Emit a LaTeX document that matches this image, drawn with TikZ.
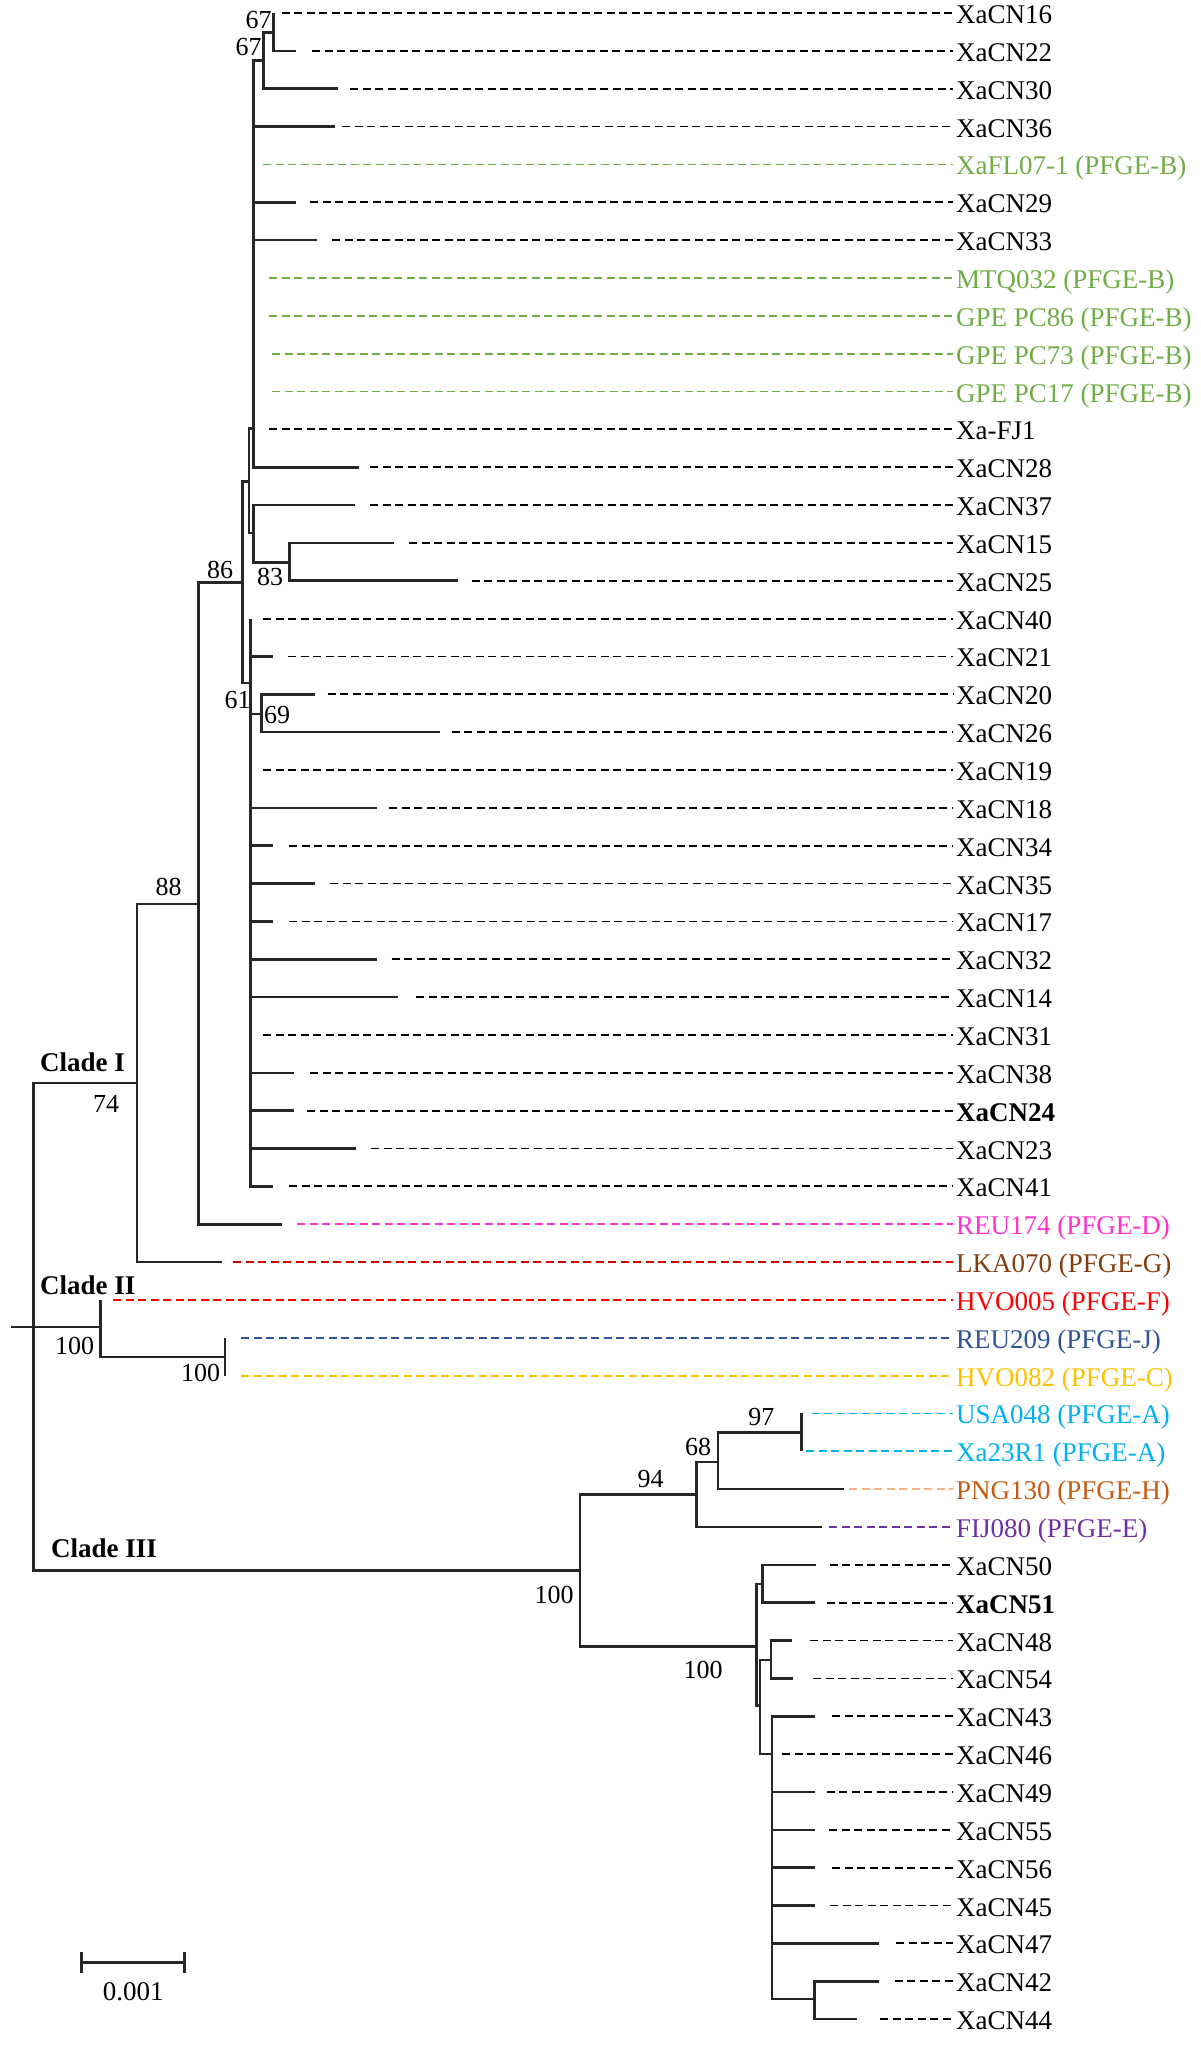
\documentclass[tikz,border=0pt]{standalone}
\usepackage{fontspec}
\setmainfont{Liberation Serif}
\usetikzlibrary{arrows.meta}
\definecolor{grn}{HTML}{70AD47}
\definecolor{pnk}{HTML}{FF33CC}
\definecolor{dred}{HTML}{D00000}
\definecolor{brn}{HTML}{843C0C}
\definecolor{rd}{HTML}{FF0000}
\definecolor{blu}{HTML}{2F5597}
\definecolor{amb}{HTML}{FFC000}
\definecolor{cyn}{HTML}{00B0F0}
\definecolor{slm}{HTML}{F4B183}
\definecolor{org}{HTML}{C55A11}
\definecolor{prp}{HTML}{7030A0}

\begin{document}
\begin{tikzpicture}[x=1pt,y=-1pt,branch/.style={draw=black!85,line width=2.6pt},dashline/.style={line width=1.8pt,dash pattern=on 8pt off 4.5pt},leaf/.style={anchor=base west,inner xsep=3pt,inner ysep=0pt,font=\fontsize{27}{30}\selectfont},boot/.style={inner sep=0pt,font=\fontsize{26}{28}\selectfont},clade/.style={anchor=west,inner sep=0pt,font=\fontsize{27}{30}\selectfont\bfseries}]
\useasboundingbox (0,0) rectangle (1200,2051);
% inner nodes
\coordinate (stub) at (10.7,1327);
\coordinate (root) at (33.5,1327);
\coordinate (nCI) at (137,1083);
\coordinate (n88) at (198.6,904);
\coordinate (n86) at (242.7,582.7);
\coordinate (nQ) at (249,481.7);
\coordinate (nP1) at (253.3,428.6);
\coordinate (nB67) at (263.3,60.3);
\coordinate (nA67) at (273.3,32.7);
\coordinate (nR) at (253.3,533);
\coordinate (n83) at (289.3,562.7);
\coordinate (n61) at (250.7,683);
\coordinate (n69) at (261.7,714);
\coordinate (nCII) at (100.3,1327);
\coordinate (nII2) at (225,1357);
\coordinate (nCIII) at (580,1570.7);
\coordinate (n94) at (696.4,1494.7);
\coordinate (n68) at (717.8,1462);
\coordinate (n97) at (801.3,1432.7);
\coordinate (n100b) at (756.5,1646.7);
\coordinate (n5051) at (762.2,1584);
\coordinate (nC) at (760,1705.6);
\coordinate (n4854) at (771.1,1660);
\coordinate (nP3) at (772,1754);
\coordinate (n4244) at (814.7,1999);
\draw[branch] (stub) -- (root);
\foreach \a/\b in {root/nCI,root/nCII,root/nCIII,nCI/n88,n88/n86,n86/nQ,n86/n61,nQ/nP1,nQ/nR,nP1/nB67,nB67/nA67,nR/n83,n61/n69,nCII/nII2,nCIII/n94,nCIII/n100b,n94/n68,n68/n97,n100b/n5051,n100b/nC,nC/n4854,nC/nP3,nP3/n4244}
  \draw[branch] (\a) |- (\b);
% leaves
\foreach \i/\p/\tip/\ds/\dc/\tc/\txt in {
  1/nA67/273.3/281.7/black/black/XaCN16,
  2/nA67/296/312/black/black/XaCN22,
  3/nB67/338/350/black/black/XaCN30,
  4/nP1/335/342/black/black/XaCN36,
  5/nP1/253.3/263.3/grn/grn/XaFL07-1 (PFGE-B),
  6/nP1/296/310/black/black/XaCN29,
  7/nP1/317/332/black/black/XaCN33,
  8/nP1/253.3/269/grn/grn/MTQ032 (PFGE-B),
  9/nP1/253.3/269/grn/grn/GPE PC86 (PFGE-B),
  10/nP1/253.3/272/grn/grn/GPE PC73 (PFGE-B),
  11/nP1/253.3/272/grn/grn/GPE PC17 (PFGE-B),
  12/nP1/253.3/269/black/black/Xa-FJ1,
  13/nP1/359/370/black/black/XaCN28,
  14/nR/355/370/black/black/XaCN37,
  15/n83/394/409/black/black/XaCN15,
  16/n83/458/471.5/black/black/XaCN25,
  17/n61/250.7/263/black/black/XaCN40,
  18/n61/273/288/black/black/XaCN21,
  19/n69/315/327.7/black/black/XaCN20,
  20/n69/440/451.6/black/black/XaCN26,
  21/n61/250.7/263/black/black/XaCN19,
  22/n61/377/389/black/black/XaCN18,
  23/n61/273/289/black/black/XaCN34,
  24/n61/315/330/black/black/XaCN35,
  25/n61/273/289/black/black/XaCN17,
  26/n61/377/391.5/black/black/XaCN32,
  27/n61/398/416/black/black/XaCN14,
  28/n61/250.7/263/black/black/XaCN31,
  29/n61/294/310/black/black/XaCN38,
  30/n61/294/307/black/black/\textbf{XaCN24},
  31/n61/356/371/black/black/XaCN23,
  32/n61/273/289/black/black/XaCN41,
  33/n88/282/297/pnk/pnk/REU174 (PFGE-D),
  34/nCI/222/233/dred/brn/LKA070 (PFGE-G),
  35/nCII/100.3/113/rd/rd/HVO005 (PFGE-F),
  36/nII2/225/241/blu/blu/REU209 (PFGE-J),
  37/nII2/225/241/amb/amb/HVO082 (PFGE-C),
  38/n97/801.3/811.5/cyn/cyn/USA048 (PFGE-A),
  39/n97/801.3/806/cyn/cyn/Xa23R1 (PFGE-A),
  40/n68/843.5/849/slm/org/PNG130 (PFGE-H),
  41/n94/822/829/prp/prp/FIJ080 (PFGE-E),
  42/n5051/815.6/829.8/black/black/XaCN50,
  43/n5051/814.7/826.7/black/black/\textbf{XaCN51},
  44/n4854/792/810/black/black/XaCN48,
  45/n4854/793/813/black/black/XaCN54,
  46/nP3/814.7/832/black/black/XaCN43,
  47/nP3/772/782/black/black/XaCN46,
  48/nP3/815/826.7/black/black/XaCN49,
  49/nP3/815/829/black/black/XaCN55,
  50/nP3/815/832/black/black/XaCN56,
  51/nP3/815/830/black/black/XaCN45,
  52/nP3/879/896.4/black/black/XaCN47,
  53/n4244/878.7/894.7/black/black/XaCN42,
  54/n4244/857/880/black/black/XaCN44}{
  \pgfmathsetmacro\yy{13+(\i-1)*37.85}
  \coordinate (t\i) at (\tip,\yy);
  \coordinate (d\i) at (\ds,\yy);
  \node[leaf,text=\tc] (L\i) at (953,\yy+10.5) {\txt};
  \draw[branch] (\p) |- (t\i);
  \draw[dashline,draw=\dc] (d\i) -- (d\i -| L\i.west);
}
% bootstrap values
\node[boot] (b67a) at (258.5,20) {67};
\node[boot] (b67b) at (248.5,47) {67};
\node[boot] (b86) at (220,570) {86};
\node[boot] (b83) at (270,576.7) {83};
\node[boot] (b61) at (237.5,700) {61};
\node[boot] (b69) at (277,715) {69};
\node[boot] (b88) at (168.5,886.6) {88};
\node[boot] (b74) at (106,1104) {74};
\node[boot] (b100a) at (74.5,1346) {100};
\node[boot] (b100b) at (200.5,1373) {100};
\node[boot] (b97) at (761.3,1416.7) {97};
\node[boot] (b68) at (698.2,1446.9) {68};
\node[boot] (b94) at (650.7,1478.9) {94};
\node[boot] (b100c) at (554,1595) {100};
\node[boot] (b100d) at (703,1670) {100};
% clades
\node[clade] (cladeI) at (40,1062.5) {Clade I};
\node[clade] (cladeII) at (40,1285.7) {Clade II};
\node[clade] (cladeIII) at (51,1548) {Clade III};
% scale bar
\coordinate (sbL) at (80,1962.7);
\coordinate (sbR) at (185.7,1962.7);
\draw[branch,{Bar[width=21pt]}-{Bar[width=21pt]}] (sbL) -- (sbR);
\node[boot,font=\fontsize{27}{30}\selectfont] (sbtext) at (133.3,1991.7) {0.001};
\end{tikzpicture}
\end{document}
